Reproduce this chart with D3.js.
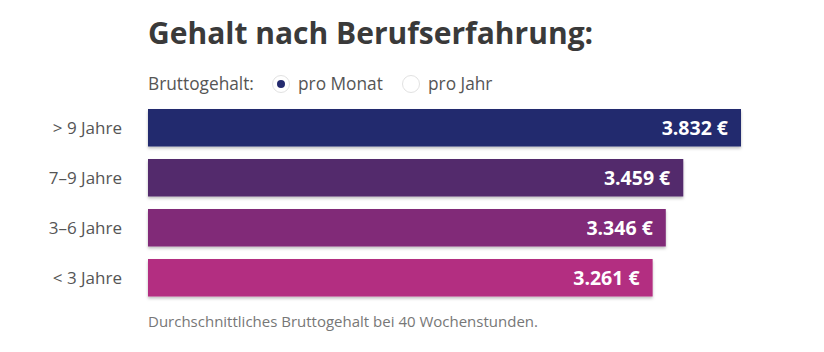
<!DOCTYPE html>
<html>
<head>
<meta charset="utf-8">
<script src="https://cdn.jsdelivr.net/npm/d3@7"></script>
<style>
	body { margin: 0; background: #fff; }
	svg { display: block; font-family: "Open Sans", sans-serif; }
</style>
</head>
<body>
<svg id="chart"></svg>
<script>
// data
const categories = ["> 9 Jahre", "7–9 Jahre", "3–6 Jahre", "< 3 Jahre"],
	values = [3832, 3459, 3346, 3261],
	bar_colors = ["#242a6e", "#532a6c", "#812b78", "#b32d81"],
	radio_labels = ["pro Monat", "pro Jahr"];

const params = {
	width: 824,
	height: 352,
	left: 148,
	top: 109,
	band_step: 50,
	bar_height: 37.5
};

const svg = d3.select('#chart')
	.attr("width", params.width)
	.attr("height", params.height);

// soft shadow under the bars
const defs = svg.append("defs");
const shadow = defs.append("filter").attr("id", "shadow")
	.attr("x", "-5%").attr("y", "-20%").attr("width", "110%").attr("height", "160%");
shadow.append("feDropShadow")
	.attr("dx", 0).attr("dy", 2).attr("stdDeviation", 1.5)
	.attr("flood-color", "#000").attr("flood-opacity", 0.25);

// title
svg.append("text")
	.attr("x", params.left).attr("y", 44)
	.attr("font-size", 30).attr("font-weight", 700)
	.attr("fill", "#3a3a3a")
	.text("Gehalt nach Berufserfahrung:");

// radio row
svg.append("text")
	.attr("x", params.left).attr("y", 90)
	.attr("font-size", 17.3).attr("fill", "#555")
	.text("Bruttogehalt:");

const radio_x = [281, 411];
radio_labels.forEach((lab, i) => {
	svg.append("circle")
		.attr("cx", radio_x[i]).attr("cy", 84).attr("r", 8.5)
		.attr("fill", "#fff").attr("stroke", "#e2e2e2").attr("stroke-width", 1);
	if (i == 0) {
		svg.append("circle")
			.attr("cx", radio_x[i]).attr("cy", 84).attr("r", 4)
			.attr("fill", "#242a6e");
	}
	svg.append("text")
		.attr("x", radio_x[i] + 17).attr("y", 90)
		.attr("font-size", 17.3).attr("fill", "#555")
		.text(lab);
});

// scales
const x = d3.scaleLinear().domain([0, d3.max(values)]).range([params.left, 741]);
const n = categories.length;
const y = d3.scaleBand().domain(categories)
	.range([params.top, params.top + params.band_step * (n - 1) + params.bar_height])
	.paddingInner(1 - params.bar_height / params.band_step)
	.paddingOuter(0).align(0);

const rows = svg.append("g").selectAll("g")
	.data(categories)
	.join("g");

rows.append("rect")
	.attr("x", x(0))
	.attr("y", d => y(d))
	.attr("width", (d, i) => x(values[i]) - x(0))
	.attr("height", y.bandwidth())
	.attr("fill", (d, i) => bar_colors[i])
	.attr("filter", "url(#shadow)");

// category labels
rows.append("text")
	.attr("x", 122)
	.attr("y", d => y(d) + y.bandwidth() / 2 + 6)
	.attr("text-anchor", "end")
	.attr("font-size", 17).attr("fill", "#555")
	.text(d => d);

// value labels inside bars
const fmt = d3.formatLocale({decimal: ",", thousands: ".", grouping: [3], currency: ["", " €"]}).format(",.0f");
rows.append("text")
	.attr("x", (d, i) => x(values[i]) - 13)
	.attr("y", d => y(d) + y.bandwidth() / 2 + 7)
	.attr("text-anchor", "end")
	.attr("font-size", 19.5).attr("font-weight", 700).attr("fill", "#fff")
	.text((d, i) => fmt(values[i]) + " €");

// footnote
svg.append("text")
	.attr("x", params.left).attr("y", 327)
	.attr("font-size", 15).attr("fill", "#777")
	.text("Durchschnittliches Bruttogehalt bei 40 Wochenstunden.");
</script>
</body>
</html>
